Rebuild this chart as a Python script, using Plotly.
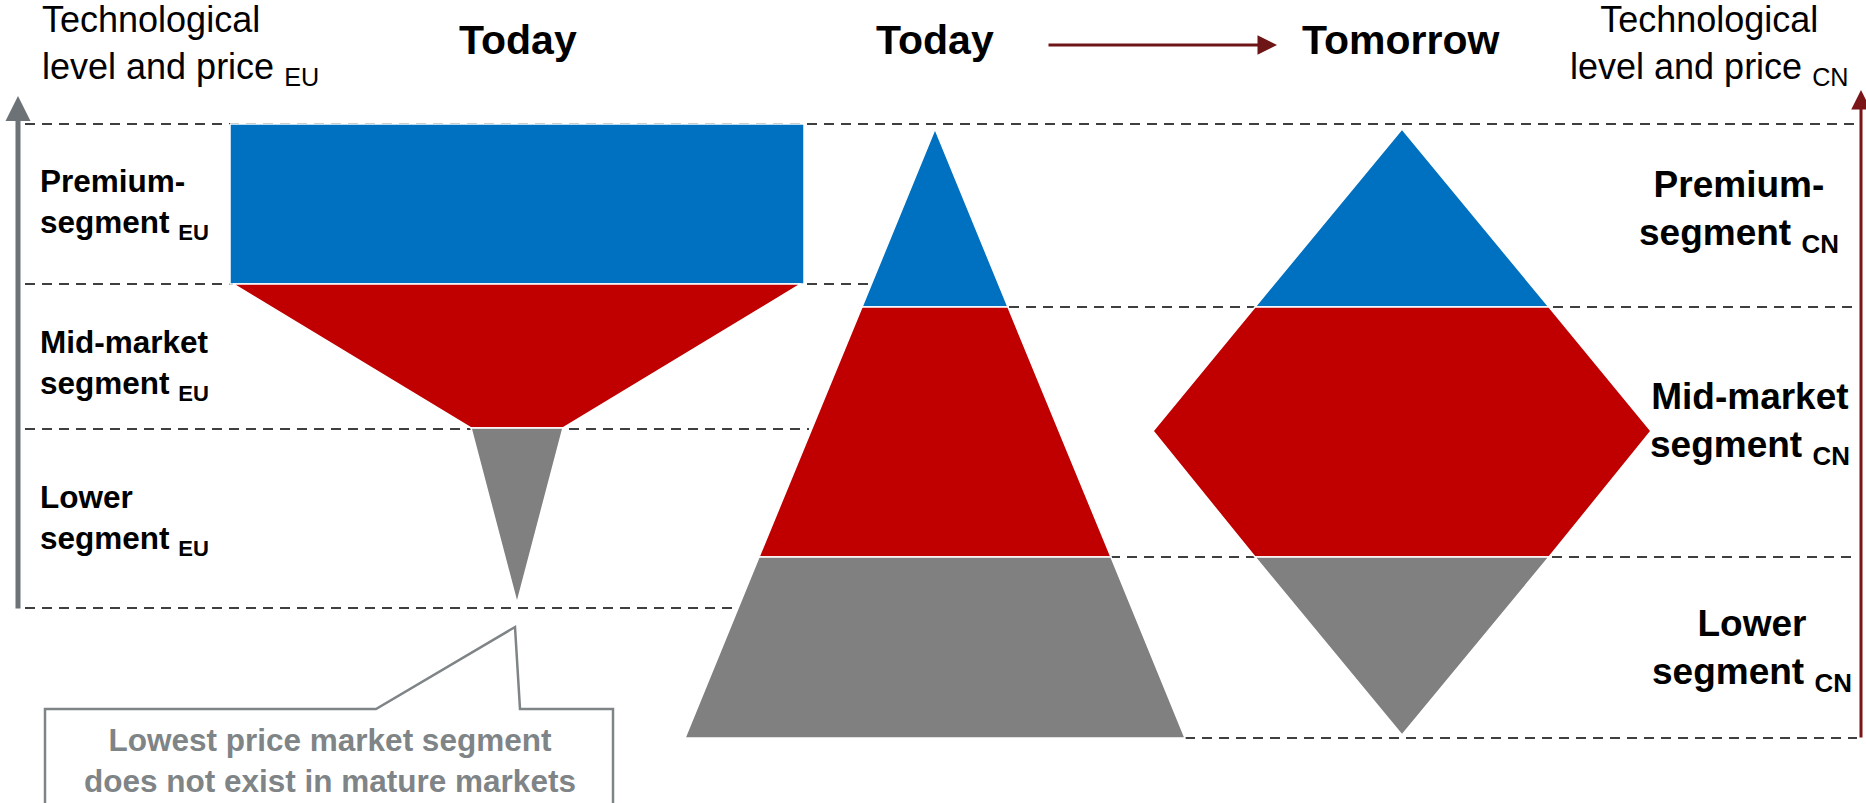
import plotly.graph_objects as go

# ---------------- data ----------------
segments = ["Premium", "Mid-market", "Lower"]
seg_colors = ["#0070C0", "#C00000", "#808080"]

# EU "today" funnel: boundaries (y) and half widths at each boundary
eu_center = 517
eu_levels = [124, 284, 428, 603]
eu_half_top = [287, 284, 46]
eu_half_bot = [287, 46, 0]

# CN "today" pyramid
cn_today_center = 935
cn_today_levels = [129, 307, 557, 738]
cn_today_half = [0, 73, 176, 250]

# CN "tomorrow" diamond
cn_tom_center = 1402
cn_tom_levels = [129, 307, 431, 557, 735]
cn_tom_half = [0, 147, 249, 147, 0]
cn_tom_seg_idx = [[0, 1], [1, 2, 3], [3, 4]]

# dashed guide lines: (y, x_start, x_end)
guide_y = [124, 284, 429, 608, 307, 557, 738]
guide_x0 = [25, 25, 25, 25, 1009, 1110, 1185]
guide_x1 = [1857, 869, 809, 809, 1857, 1857, 1857]

titles = ["Today", "Today", "Tomorrow"]
title_x = [518, 935, 1401]

eu_labels = ["Premium-<br>segment <sub>EU</sub>", "Mid-market<br>segment <sub>EU</sub>",
             "Lower<br>segment <sub>EU</sub>"]
eu_label_y = [204, 365, 520]
cn_labels = ["Premium-<br>segment <sub>CN</sub>", "Mid-market<br>segment <sub>CN</sub>",
             "Lower<br>segment <sub>CN</sub>"]
cn_label_x = [1739, 1750, 1752]
cn_label_y = [211, 423, 650]

callout_lines = "Lowest price market segment<br>does not exist in mature markets"

FONT = "Liberation Sans, Arial, sans-serif"

fig = go.Figure()

# dashed guides
for y, x0, x1 in zip(guide_y, guide_x0, guide_x1):
    fig.add_trace(go.Scatter(x=[x0, x1], y=[y, y], mode="lines",
                             line=dict(color="#000000", width=1.5, dash="10px,7px"),
                             hoverinfo="skip", showlegend=False))

def poly(xs, ys, color):
    fig.add_trace(go.Scatter(x=xs + [xs[0]], y=ys + [ys[0]], fill="toself", fillcolor=color,
                             mode="lines", line=dict(color="white", width=1.5),
                             hoverinfo="skip", showlegend=False))

# EU funnel
for i in range(3):
    yt, yb = eu_levels[i], eu_levels[i + 1]
    ht, hb = eu_half_top[i], eu_half_bot[i]
    xs = [eu_center - ht, eu_center + ht, eu_center + hb, eu_center - hb]
    ys = [yt, yt, yb, yb]
    poly(xs, ys, seg_colors[i])

# CN today pyramid
for i in range(3):
    yt, yb = cn_today_levels[i], cn_today_levels[i + 1]
    ht, hb = cn_today_half[i], cn_today_half[i + 1]
    xs = [cn_today_center - ht, cn_today_center + ht, cn_today_center + hb, cn_today_center - hb]
    ys = [yt, yt, yb, yb]
    poly(xs, ys, seg_colors[i])

# CN tomorrow diamond
for i, idx in enumerate(cn_tom_seg_idx):
    right = [(cn_tom_center + cn_tom_half[k], cn_tom_levels[k]) for k in idx]
    left = [(cn_tom_center - cn_tom_half[k], cn_tom_levels[k]) for k in reversed(idx)]
    pts = right + left
    poly([p[0] for p in pts], [p[1] for p in pts], seg_colors[i])

annotations = []
# arrows
annotations.append(dict(x=18, y=96, ax=18, ay=610, xref="x", yref="y", axref="x", ayref="y",
                        text="", showarrow=True, arrowhead=2, arrowsize=1.0, arrowwidth=5,
                        arrowcolor="#6D7276"))
annotations.append(dict(x=1861, y=90, ax=1861, ay=739, xref="x", yref="y", axref="x", ayref="y",
                        text="", showarrow=True, arrowhead=2, arrowsize=1.3, arrowwidth=3,
                        arrowcolor="#7A1518"))
annotations.append(dict(x=1277, y=45, ax=1047, ay=45, xref="x", yref="y", axref="x", ayref="y",
                        text="", showarrow=True, arrowhead=2, arrowsize=1.3, arrowwidth=3,
                        arrowcolor="#6E1518"))

for t, x in zip(titles, title_x):
    annotations.append(dict(x=x, y=40, xref="x", yref="y", text="<b>%s</b>" % t, showarrow=False,
                            font=dict(family=FONT, size=41, color="#000"), xanchor="center",
                            yanchor="middle"))

annotations.append(dict(x=40, y=45, xref="x", yref="y",
                        text="Technological<br>level and price <sub>EU</sub>", showarrow=False,
                        font=dict(family=FONT, size=36, color="#000"), xanchor="left",
                        yanchor="middle", align="left"))
annotations.append(dict(x=1709, y=45, xref="x", yref="y",
                        text="Technological<br>level and price <sub>CN</sub>", showarrow=False,
                        font=dict(family=FONT, size=36, color="#000"), xanchor="center",
                        yanchor="middle", align="center"))

for t, y in zip(eu_labels, eu_label_y):
    annotations.append(dict(x=38, y=y, xref="x", yref="y", text="<b>%s</b>" % t, showarrow=False,
                            font=dict(family=FONT, size=31.5, color="#000"), xanchor="left",
                            yanchor="middle", align="left"))
for t, x, y in zip(cn_labels, cn_label_x, cn_label_y):
    annotations.append(dict(x=x, y=y, xref="x", yref="y", text="<b>%s</b>" % t, showarrow=False,
                            font=dict(family=FONT, size=37, color="#000"), xanchor="center",
                            yanchor="middle", align="center"))

annotations.append(dict(x=330, y=760, xref="x", yref="y", text="<b>%s</b>" % callout_lines,
                        showarrow=False, font=dict(family=FONT, size=31.5, color="#7F8487"),
                        xanchor="center", yanchor="middle", align="center"))

shapes = [dict(type="path",
               path="M 45 810 L 45 709 L 376 709 L 515 627 L 520 709 L 613 709 L 613 810",
               xref="x", yref="y", line=dict(color="#7F8487", width=2.5), fillcolor="white",
               layer="below")]

fig.update_layout(
    width=1866, height=803, margin=dict(l=0, r=0, t=0, b=0),
    paper_bgcolor="white", plot_bgcolor="white",
    xaxis=dict(range=[0, 1866], visible=False, fixedrange=True),
    yaxis=dict(range=[803, 0], visible=False, fixedrange=True),
    annotations=annotations, shapes=shapes, showlegend=False,
)

fig.write_html("out.html")
